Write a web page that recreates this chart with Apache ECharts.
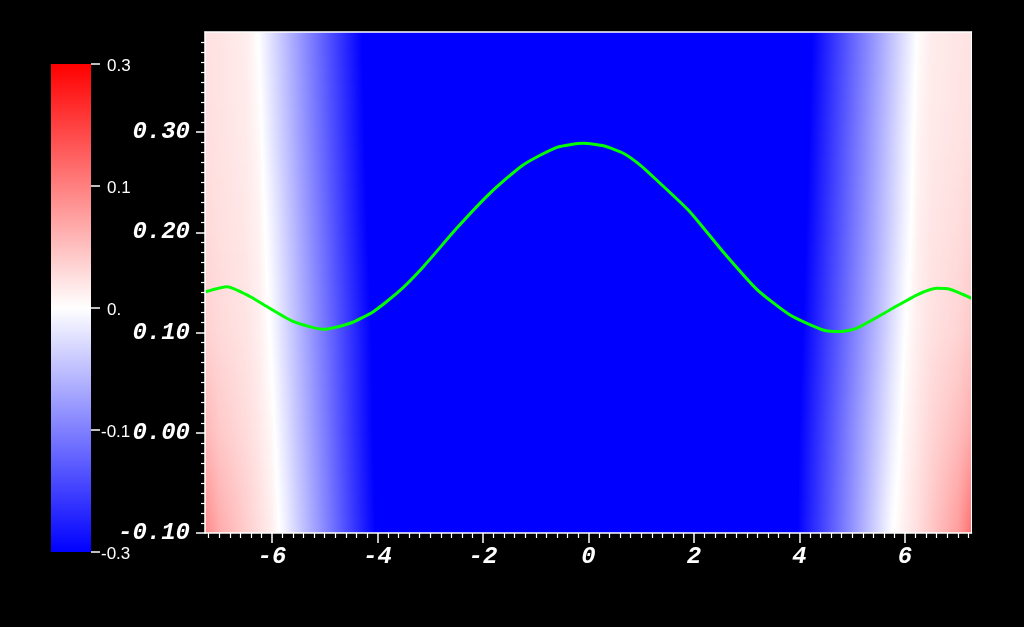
<!DOCTYPE html>
<html>
<head>
<meta charset="utf-8">
<script src="https://cdn.jsdelivr.net/npm/echarts@6/dist/echarts.min.js"></script>
<style>
html,body{margin:0;padding:0;background:#000;}
#chart{width:1024px;height:627px;}
</style>
</head>
<body>
<div id="chart"></div>
<script>
// ---- axis ticks ----
const xTickValues = [-6, -4, -2, 0, 2, 4, 6];
const yTickValues = [-0.1, 0, 0.1, 0.2, 0.3];
const colorbarLabels = ['0.3', '0.1', '0.', '-0.1', '-0.3'];

// ---- green curve ----
const curveX = [-7.26, -6.85, -6.41, -6.09, -5.59, -5.02, -4.52, -4.08, -3.6, -3.13, -2.5, -1.87, -1.24, -0.6, -0.1, 0.3, 0.66, 0.98, 1.29, 1.92, 2.55, 3.19, 3.82, 4.45, 4.76, 5.08, 5.71, 6.22, 6.6, 6.85, 7.26];
const curveY = [0.1408, 0.1458, 0.1358, 0.1258, 0.1109, 0.1033, 0.1093, 0.1209, 0.1408, 0.1658, 0.2041, 0.239, 0.2673, 0.2849, 0.2889, 0.2862, 0.279, 0.2672, 0.2523, 0.2207, 0.1807, 0.1432, 0.1176, 0.1026, 0.101, 0.1043, 0.1226, 0.1375, 0.1442, 0.1432, 0.1342];

const fieldX = [-7.27, -7.0, -6.5, -6.25, -6.0, -5.75, -5.5, -5.0, -4.5, -4.0, -3.5, 3.5, 4.0, 4.5, 5.0, 5.5, 5.75, 6.0, 6.25, 6.5, 7.0, 7.26];
const fieldY = [0.4, 0.3, 0.2, 0.1, 0.0, -0.1];
const fieldAtY040 = [0.035, 0.032, 0.022, -0.002, -0.040, -0.078, -0.116, -0.193, -0.269, -0.345, -0.42, -0.42, -0.335, -0.26, -0.185, -0.11, -0.072, -0.035, 0.003, 0.022, 0.030, 0.033];
const fieldAtY030 = [0.038, 0.034, 0.024, 0.008, -0.031, -0.069, -0.108, -0.185, -0.262, -0.338, -0.42, -0.42, -0.327, -0.251, -0.175, -0.099, -0.061, -0.023, 0.012, 0.025, 0.033, 0.037];
const fieldAtY020 = [0.045, 0.038, 0.028, 0.016, -0.016, -0.055, -0.095, -0.174, -0.253, -0.33, -0.42, -0.42, -0.318, -0.242, -0.166, -0.09, -0.052, -0.014, 0.018, 0.03, 0.04, 0.05];
const fieldAtY010 = [0.055, 0.045, 0.032, 0.02, -0.005, -0.044, -0.083, -0.162, -0.24, -0.319, -0.42, -0.42, -0.308, -0.231, -0.154, -0.077, -0.038, 0.0, 0.022, 0.035, 0.05, 0.065];
const fieldAtY000 = [0.085, 0.065, 0.042, 0.028, 0.008, -0.031, -0.072, -0.153, -0.235, -0.316, -0.42, -0.42, -0.297, -0.218, -0.139, -0.06, -0.021, 0.012, 0.03, 0.048, 0.078, 0.1];
const fieldAtYm010 = [0.14, 0.1, 0.06, 0.04, 0.02, -0.015, -0.057, -0.141, -0.225, -0.308, -0.42, -0.42, -0.29, -0.21, -0.129, -0.042, -0.002, 0.02, 0.04, 0.065, 0.115, 0.17];
const fieldRows = [fieldAtY040, fieldAtY030, fieldAtY020, fieldAtY010, fieldAtY000, fieldAtYm010];

const X_MIN = -7.27, X_MAX = 7.26, Y_MIN = -0.1, Y_MAX = 0.4;
const C_RANGE = 0.3;

function colorOf(v) {
  let t = Math.max(-1, Math.min(1, v / C_RANGE));
  if (t >= 0) {
    const g = Math.round(255 * (1 - t));
    return 'rgb(255,' + g + ',' + g + ')';
  } else {
    const g = Math.round(255 * (1 + t));
    return 'rgb(' + g + ',' + g + ',255)';
  }
}
function stopsFor(v0, v1) {
  const stops = [{ offset: 0, color: colorOf(v0) }];
  if (v1 !== v0) {
    const br = [-C_RANGE, 0, C_RANGE]
      .filter(b => (b - v0) * (b - v1) < 0)
      .map(b => (b - v0) / (v1 - v0))
      .sort((a, b) => a - b);
    br.forEach(o => stops.push({ offset: o, color: colorOf(v0 + (v1 - v0) * o) }));
  }
  stops.push({ offset: 1, color: colorOf(v1) });
  return stops;
}

const cells = [];
for (let j = 0; j < fieldY.length - 1; j++) {
  for (let i = 0; i < fieldX.length - 1; i++) {
    cells.push([fieldX[i], fieldY[j], fieldX[i + 1], fieldY[j + 1],
      fieldRows[j][i], fieldRows[j][i + 1], fieldRows[j + 1][i], fieldRows[j + 1][i + 1]]);
  }
}

const minorX = [];
for (let k = -36; k <= 36; k++) { if (k % 10 !== 0) minorX.push(k / 5); }

const tickFont = { color: '#fff', fontFamily: 'Liberation Mono', fontWeight: 'bold', fontStyle: 'italic', fontSize: 24 };

const chart = echarts.init(document.getElementById('chart'));
const barTop = 64, barH = 488, barLeft = 51, barW = 40;
const graphics = [{
  type: 'rect', left: barLeft, top: barTop, shape: { width: barW, height: barH },
  style: { fill: new echarts.graphic.LinearGradient(0, 0, 0, 1, [
    { offset: 0, color: '#ff0000' }, { offset: 0.5, color: '#ffffff' }, { offset: 1, color: '#0000ff' }]) }
}];
colorbarLabels.forEach((lab, k) => {
  const y = barTop + barH * k / (colorbarLabels.length - 1);
  graphics.push({ type: 'line', shape: { x1: barLeft + barW, y1: y, x2: barLeft + barW + 9, y2: y }, style: { stroke: '#fff', lineWidth: 1.5 } });
  graphics.push({ type: 'text', x: lab.startsWith('-') ? 101 : 107, y: y + 2, style: { text: lab, fill: '#fff', font: '17px "Liberation Sans"', textVerticalAlign: 'middle', textAlign: 'left' } });
});

chart.setOption({
  backgroundColor: '#000',
  animation: false,
  grid: { left: 205, right: 52.5, top: 32, bottom: 94 },
  graphic: graphics,
  xAxis: [{
    type: 'value', min: X_MIN, max: X_MAX, position: 'bottom', z: 10,
    axisLine: { show: true, onZero: false, lineStyle: { color: '#fff', width: 1.5 } },
    axisTick: { show: true, customValues: xTickValues, length: 10, lineStyle: { color: '#fff', width: 1.5 } },
    axisLabel: Object.assign({ customValues: xTickValues, margin: 12, formatter: v => String(v) }, tickFont),
    splitLine: { show: false }
  }, {
    type: 'value', min: X_MIN, max: X_MAX, position: 'bottom', z: 10,
    axisLine: { show: false, onZero: false },
    axisTick: { show: true, customValues: minorX, length: 5, lineStyle: { color: '#fff', width: 1.2 } },
    axisLabel: { show: false }, splitLine: { show: false }
  }, {
    type: 'value', min: X_MIN, max: X_MAX, position: 'top', z: 10,
    axisLine: { show: true, onZero: false, lineStyle: { color: '#fff', width: 1.5 } },
    axisTick: { show: false }, axisLabel: { show: false }, splitLine: { show: false }
  }],
  yAxis: [{
    type: 'value', min: Y_MIN, max: Y_MAX, interval: 0.1, position: 'left', z: 10,
    axisLine: { show: true, onZero: false, lineStyle: { color: '#fff', width: 1.5 } },
    axisTick: { show: true, customValues: yTickValues, length: 9, lineStyle: { color: '#fff', width: 1.5 } },
    minorTick: { show: true, splitNumber: 10, length: 4, lineStyle: { color: '#fff', width: 1.2 } },
    axisLabel: Object.assign({ customValues: yTickValues, margin: 15, formatter: v => v.toFixed(2) }, tickFont),
    splitLine: { show: false }, minorSplitLine: { show: false }
  }, {
    type: 'value', min: Y_MIN, max: Y_MAX, position: 'right', z: 10,
    axisLine: { show: true, onZero: false, lineStyle: { color: '#fff', width: 1 } },
    axisTick: { show: false }, axisLabel: { show: false }, splitLine: { show: false }
  }],
  series: [{
    type: 'custom', xAxisIndex: 0, yAxisIndex: 0, clip: true, z: 1,
    data: cells,
    encode: { x: [0, 2], y: [1, 3] },
    renderItem: function (params, api) {
      const x0 = api.value(0), y0 = api.value(1), x1 = api.value(2), y1 = api.value(3);
      const a = api.value(4), b = api.value(5), c = api.value(6), d = api.value(7);
      const p0 = api.coord([x0, y0]), p1 = api.coord([x1, y1]);
      const left = Math.round(p0[0]), right = Math.round(p1[0]);
      const children = [];
      if (Math.max(a, b, c, d) <= -C_RANGE) {
        children.push({ type: 'rect', shape: { x: left, y: Math.round(p0[1]), width: right - left, height: Math.round(p1[1]) - Math.round(p0[1]) }, style: { fill: colorOf(-C_RANGE) } });
        return { type: 'group', children: children };
      }
      const S = 25;
      for (let s = 0; s < S; s++) {
        const top = Math.round(p0[1] + (p1[1] - p0[1]) * s / S);
        const bot = Math.round(p0[1] + (p1[1] - p0[1]) * (s + 1) / S);
        const f = (s + 0.5) / S;
        const vl = a + (c - a) * f, vr = b + (d - b) * f;
        children.push({
          type: 'rect',
          shape: { x: left, y: top, width: right - left, height: bot - top },
          style: { fill: new echarts.graphic.LinearGradient(0, 0, 1, 0, stopsFor(vl, vr)) }
        });
      }
      return { type: 'group', children: children };
    }
  }, {
    type: 'line', xAxisIndex: 0, yAxisIndex: 0, z: 5,
    data: curveX.map((x, i) => [x, curveY[i]]),
    smooth: 0.2, showSymbol: false, symbol: 'none',
    lineStyle: { color: '#00ff00', width: 3 }
  }]
});
</script>
</body>
</html>
